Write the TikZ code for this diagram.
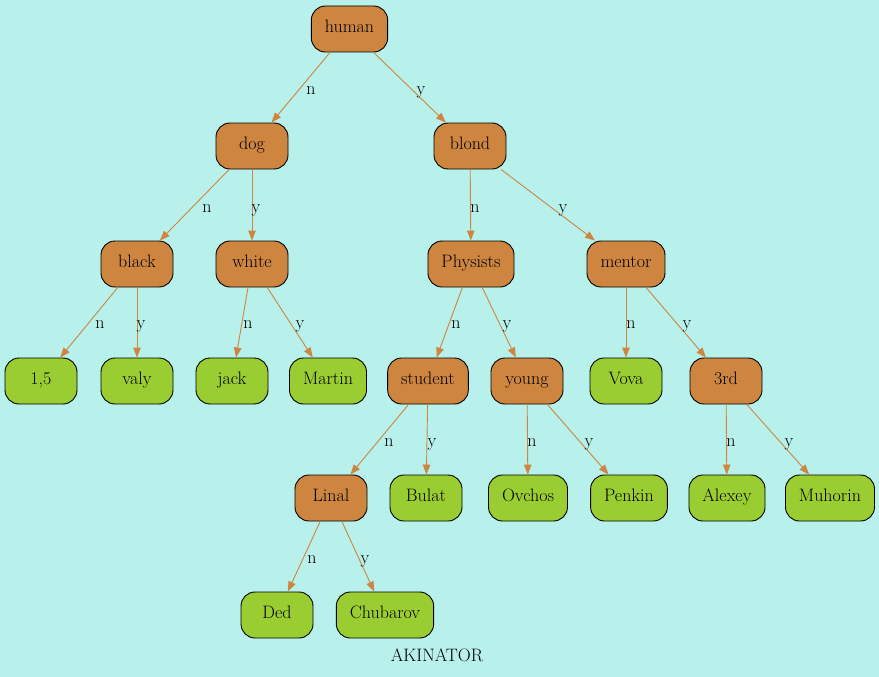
\documentclass[tikz,border=0pt]{standalone}
\usetikzlibrary{arrows.meta}
\definecolor{bgcol}{HTML}{B8F0EB}
\definecolor{peru}{HTML}{CD853F}
\definecolor{yellowgreen}{HTML}{9ACD32}
\tikzset{
  qnode/.style={draw=black, line width=0.9pt, fill=peru, rounded corners=14pt, minimum width=72pt,
    minimum height=46pt, inner xsep=13.5pt, text height=0.72em, text depth=0.06em,
    font=\fontsize{18}{22}\selectfont},
  leaf/.style={qnode, fill=yellowgreen},
  edge/.style={draw=peru, line width=0.9pt, -{Triangle[length=10pt,width=7.5pt]}},
  lbl/.style={anchor=base, yshift=-5.3pt, inner sep=0pt, font=\fontsize{18}{22}\selectfont}
}
\begin{document}
\begin{tikzpicture}[x=1pt, y=-1pt]
\fill[bgcol] (0,0) rectangle (879,677);
\useasboundingbox (0,0) rectangle (879,677);
\draw
    (349.5,29)  node[qnode] (human) {human}
    (252,146)  node[qnode] (dog) {dog}
    (470,146)  node[qnode] (blond) {blond}
    (137,264)  node[qnode] (black) {black}
    (252,264)  node[qnode] (white) {white}
    (471,264)  node[qnode] (phys) {Physists}
    (626,264)  node[qnode] (mentor) {mentor}
    (41,381)  node[leaf] (onefive) {1,5}
    (137,381)  node[leaf] (valy) {valy}
    (232,381)  node[leaf] (jack) {jack}
    (328,381)  node[leaf] (martin) {Martin}
    (428,381)  node[qnode] (student) {student}
    (527,381)  node[qnode] (young) {young}
    (626,381)  node[leaf] (vova) {Vova}
    (726,381)  node[qnode] (third) {3rd}
    (331,498)  node[qnode] (linal) {Linal}
    (426,498)  node[leaf] (bulat) {Bulat}
    (528,498)  node[leaf] (ovchos) {Ovchos}
    (629,498)  node[leaf] (penkin) {Penkin}
    (727,498)  node[leaf] (alexey) {Alexey}
    (830,498)  node[leaf] (muhorin) {Muhorin}
    (277,615)  node[leaf] (ded) {Ded}
    (385,615)  node[leaf] (chubarov) {Chubarov}
    (437,656.5)  node[lbl] (title) {AKINATOR};
\draw[edge] (human) -- (dog) node[lbl] at (311,89) {n};
\draw[edge] (human) -- (blond) node[lbl] at (421,89) {y};
\draw[edge] (dog) -- (black) node[lbl] at (207,207) {n};
\draw[edge] (dog) -- (white) node[lbl] at (256,207) {y};
\draw[edge] (blond) -- (phys) node[lbl] at (475,207) {n};
\draw[edge] (blond) -- (mentor) node[lbl] at (563,207) {y};
\draw[edge] (black) -- (onefive) node[lbl] at (100,323) {n};
\draw[edge] (black) -- (valy) node[lbl] at (141,323) {y};
\draw[edge] (white) -- (jack) node[lbl] at (248,323) {n};
\draw[edge] (white) -- (martin) node[lbl] at (300,323) {y};
\draw[edge] (phys) -- (student) node[lbl] at (456,323) {n};
\draw[edge] (phys) -- (young) node[lbl] at (507,323) {y};
\draw[edge] (mentor) -- (vova) node[lbl] at (631,323) {n};
\draw[edge] (mentor) -- (third) node[lbl] at (687,323) {y};
\draw[edge] (student) -- (linal) node[lbl] at (389,441) {n};
\draw[edge] (student) -- (bulat) node[lbl] at (432,441) {y};
\draw[edge] (young) -- (ovchos) node[lbl] at (532,441) {n};
\draw[edge] (young) -- (penkin) node[lbl] at (589,441) {y};
\draw[edge] (third) -- (alexey) node[lbl] at (731,441) {n};
\draw[edge] (third) -- (muhorin) node[lbl] at (789,441) {y};
\draw[edge] (linal) -- (ded) node[lbl] at (312,558) {n};
\draw[edge] (linal) -- (chubarov) node[lbl] at (365,558) {y};
\end{tikzpicture}
\end{document}
